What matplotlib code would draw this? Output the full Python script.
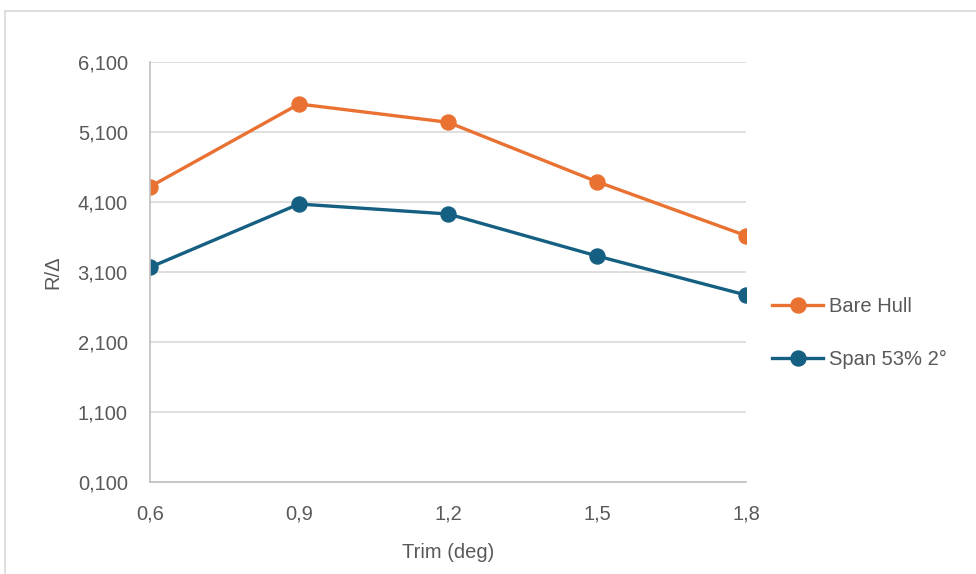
import matplotlib
matplotlib.use("Agg")
import matplotlib.pyplot as plt
from matplotlib.lines import Line2D
from matplotlib.ticker import FuncFormatter, FixedLocator

trim = [0.6, 0.9, 1.2, 1.5, 1.8]
bare_hull = [4.319, 5.500, 5.239, 4.390, 3.619]
span_53 = [3.167, 4.071, 3.929, 3.329, 2.771]
series_names = ["Bare Hull", "Span 53% 2°"]
y_ticks = [0.1, 1.1, 2.1, 3.1, 4.1, 5.1, 6.1]

plt.rcParams['font.family'] = ['Liberation Sans', 'DejaVu Sans']
txt = '#595959'
fs = 14.5

fig = plt.figure(figsize=(9.76, 5.74), dpi=100)
ax = fig.add_axes([150/976, 92/574, 596/976, 420/574])

orange = '#E97132'
blue = '#156082'
ax.plot(trim, bare_hull, color=orange, lw=2.4, marker='o', ms=10.8, label=series_names[0])
ax.plot(trim, span_53, color=blue, lw=2.4, marker='o', ms=10.8, label=series_names[1])

ax.set_xlim(0.6, 1.8)
ax.set_ylim(0.1, 6.1)
ax.xaxis.set_major_locator(FixedLocator(trim))
ax.yaxis.set_major_locator(FixedLocator(y_ticks))
ax.xaxis.set_major_formatter(FuncFormatter(lambda v, p: f"{v:.1f}".replace('.', ',')))
ax.yaxis.set_major_formatter(FuncFormatter(lambda v, p: f"{v:.3f}".replace('.', ',')))
ax.grid(axis='y', color='#D9D9D9', lw=1.2)
ax.set_axisbelow(True)
for s in ['top', 'right']:
    ax.spines[s].set_visible(False)
for s in ['left', 'bottom']:
    ax.spines[s].set_color('#BFBFBF')
    ax.spines[s].set_linewidth(1.2)
ax.tick_params(axis='y', length=0, labelsize=fs, colors=txt, pad=16)
ax.tick_params(axis='x', length=0, labelsize=fs, colors=txt, pad=16)
for l in ax.get_xticklabels() + ax.get_yticklabels():
    l.set_clip_on(False)

ax.set_xlabel("Trim (deg)", fontsize=fs, color=txt, labelpad=14)
ax.set_ylabel("R/Δ", fontsize=fs, color=txt, labelpad=11)

leg = fig.legend(loc='center left', bbox_to_anchor=(772/976, 1 - 333/574), frameon=False,
                 fontsize=fs, labelcolor=txt, handlelength=2.55, handletextpad=0.3,
                 labelspacing=1.65, borderaxespad=0, borderpad=0)

fig.add_artist(Line2D([5/976, 1.0], [1 - 11/574, 1 - 11/574], color='#D9D9D9', lw=1.2,
                      transform=fig.transFigure))
fig.add_artist(Line2D([5/976, 5/976], [0, 1 - 11/574], color='#D9D9D9', lw=1.2,
                      transform=fig.transFigure))

fig.savefig("out.png", dpi=100)
